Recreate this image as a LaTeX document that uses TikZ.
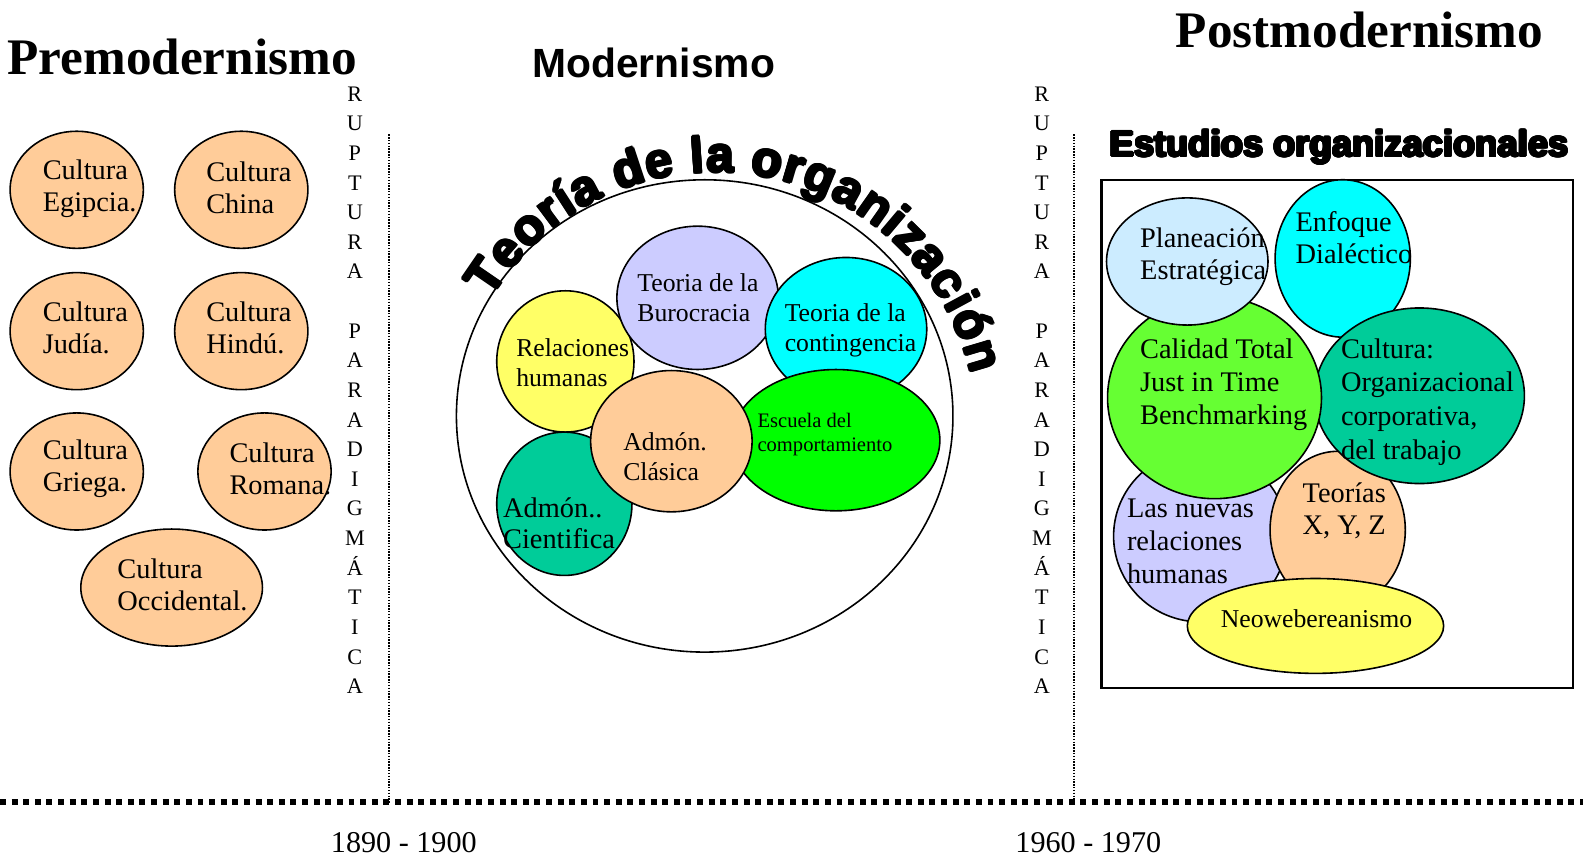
\documentclass[tikz,border=0pt]{standalone}
\usepackage{fontspec}
\setmainfont{Liberation Serif}
\newfontfamily\headsans{Liberation Sans}
\usepackage[copies]{contour}
\contourlength{0.65pt}
\contournumber{16}
\usetikzlibrary{shapes.geometric, decorations.text}
\usepackage{xcolor}

\definecolor{peach}{HTML}{FFCC99}
\definecolor{lemon}{HTML}{FFFF66}
\definecolor{lavender}{HTML}{CCCCFF}
\definecolor{aqua}{HTML}{00FFFF}
\definecolor{neon}{HTML}{00FF00}
\definecolor{teal}{HTML}{00CC99}
\definecolor{sky}{HTML}{CCECFF}
\definecolor{lime}{HTML}{66FF33}

\newcommand\arcfont{\headsans\bfseries\fontsize{28}{30}\selectfont}

\tikzset{
  blob/.style 2 args={ellipse, draw, line width=0.9pt, inner sep=0pt,
    minimum width=#1*0.04cm, minimum height=#2*0.04cm},
  lbl/.style={anchor=west, align=left, inner sep=0pt, font=\fontsize{16}{18}\selectfont},
  midlbl/.style={anchor=west, align=left, inner sep=0pt, font=\fontsize{14.5}{17}\selectfont},
  rupt/.style={align=center, inner sep=0pt, font=\fontsize{12.5}{16.7}\selectfont},
  year/.style={anchor=base, inner sep=0pt, font=\fontsize{17}{18}\selectfont},
  cut/.style={line width=0.8pt, dash pattern=on 0.8pt off 0.8pt},
  arctext/.style={decorate, decoration={text along path, text align={fit to path},
    text={|\arcfont|Teoría de la organización}}},
}

\begin{document}
\begin{tikzpicture}[x=0.02cm, y=-0.02cm]
\useasboundingbox (0,0) rectangle (1568,848);

\node[font=\bfseries\fontsize{28.9}{30}\selectfont, anchor=base west, inner sep=0pt] (premod) at (7,74) {Premodernismo};
\node[font=\headsans\bfseries\fontsize{23}{25}\selectfont, anchor=base, inner sep=0pt] (mod) at (647.5,77) {Modernismo};
\node[font=\bfseries\fontsize{28.9}{30}\selectfont, anchor=base, inner sep=0pt] (postmod) at (1346.5,47) {Postmodernismo};
\node[font=\headsans\bfseries\fontsize{20.5}{22}\selectfont, anchor=base, inner sep=0pt] (estudios) at (1326.6,155) {\contour{black}{Estudios organizacionales}};

\node[blob={66}{58}, fill=peach] (egipcia) at (76,188) {};
\node[blob={66}{58}, fill=peach] (china) at (239,188) {};
\node[blob={66}{58}, fill=peach] (judia) at (76,328) {};
\node[blob={66}{58}, fill=peach] (hindu) at (239,328) {};
\node[blob={66}{58}, fill=peach] (griega) at (76,467) {};
\node[blob={66}{58}, fill=peach] (romana) at (262,467) {};
\node[blob={90}{58}, fill=peach] (occidental) at (170,582) {};

\node[lbl] (egipciaT) at (42,187) {Cultura\\Egipcia.};
\node[lbl] (chinaT) at (204,186) {Cultura\\China};
\node[lbl] (judiaT) at (42,325) {Cultura\\Judía.};
\node[lbl] (hinduT) at (204,325) {Cultura\\Hindú.};
\node[lbl] (griegaT) at (42,464) {Cultura\\Griega.};
\node[lbl] (romanaT) at (227,464) {Cultura\\Romana.};
\node[lbl] (occidentalT) at (116,579) {Cultura\\Occidental.};

\node[blob={246}{234}, fill=white] (teoria) at (698,412) {};
\node[blob={68}{70}, fill=lemon] (relaciones) at (560,358) {};
\node[blob={80}{71}, fill=lavender] (burocracia) at (691,295) {};
\node[blob={80}{71}, fill=aqua] (contingencia) at (838,326) {};
\node[blob={67}{71}, fill=teal] (cientifica) at (559,499) {};
\node[blob={103}{70}, fill=neon] (escuela) at (828,436) {};
\node[blob={80}{70}, fill=peach] (clasica) at (665,437) {};

\node[midlbl] (relacionesT) at (511,359) {Relaciones\\humanas};
\node[midlbl] (burocraciaT) at (631,295) {Teoria de la\\Burocracia};
\node[midlbl] (contingenciaT) at (777,327) {Teoria de la\\contingencia};
\node[lbl, font=\fontsize{16}{17.6}\selectfont] (cientificaT) at (498,518) {Admón..\\Cientifica};
\node[midlbl, font=\fontsize{11.6}{13.6}\selectfont] (escuelaT) at (750,430) {Escuela del\\comportamiento};
\node[midlbl] (clasicaT) at (617,452) {Admón.\\Clásica};

\foreach \a in {0,45,...,315}
  \path[arctext, shift={(\a:1.3)}] (486.6,295.8) arc[start angle=-148.8, end angle=-13.2, radius=260];
\path[arctext] (486.6,295.8) arc[start angle=-148.8, end angle=-13.2, radius=260];

\node[draw, line width=1.2pt, anchor=north west, inner sep=0pt,
  minimum width=467*0.02cm, minimum height=503*0.02cm] (caja) at (1090,177) {};
\node[blob={86}{85}, fill=lavender] (nuevas) at (1189,531) {};
\node[blob={67}{78}, fill=peach] (teorias) at (1325,525) {};
\node[blob={67}{78}, fill=aqua] (enfoque) at (1330,256) {};
\node[blob={104}{87}, fill=teal] (cultura) at (1406,392) {};
\node[blob={106}{100}, fill=lime] (calidad) at (1203,394) {};
\node[blob={80}{63}, fill=sky] (planeacion) at (1176,259) {};
\node[blob={127}{47}, fill=lemon] (neo) at (1303,620) {};

\node[lbl] (planeacionT) at (1129,254) {Planeación\\Estratégica};
\node[lbl] (enfoqueT) at (1283,235) {Enfoque\\Dialéctico};
\node[lbl, font=\fontsize{16}{18.4}\selectfont] (calidadT) at (1129,381) {Calidad Total\\Just in Time\\Benchmarking};
\node[lbl, font=\fontsize{16}{19}\selectfont] (culturaT) at (1328,398) {Cultura:\\Organizacional\\corporativa,\\del trabajo};
\node[lbl, font=\fontsize{16}{18.7}\selectfont] (nuevasT) at (1116,536) {Las nuevas\\relaciones\\humanas};
\node[lbl] (teoriasT) at (1290,506) {Teorías\\X, Y, Z};
\node[midlbl, anchor=center] (neoT) at (1304,613) {Neowebereanismo};

\node[rupt] (ruptura1) at (351.5,386.5) {R\\U\\P\\T\\U\\R\\A\\[16.7pt]P\\A\\R\\A\\D\\I\\G\\M\\Á\\T\\I\\C\\A};
\node[rupt] (ruptura2) at (1032,386.5) {R\\U\\P\\T\\U\\R\\A\\[16.7pt]P\\A\\R\\A\\D\\I\\G\\M\\Á\\T\\I\\C\\A};

\coordinate (corte1a) at (385.5,133);
\coordinate (corte1b) at (385.5,795);
\coordinate (corte2a) at (1064,133);
\coordinate (corte2b) at (1064,795);
\draw[cut] (corte1a) -- (corte1b);
\draw[cut] (corte2a) -- (corte2b);

\coordinate (lineaA) at (0,794.5);
\coordinate (lineaB) at (1568,794.5);
\draw[line width=3.35pt, dash pattern=on 3.35pt off 3.2pt] (lineaA) -- (lineaB);

\node[year] (anio1) at (400,844) {1890 - 1900};
\node[year] (anio2) at (1078,844) {1960 - 1970};
\end{tikzpicture}
\end{document}
